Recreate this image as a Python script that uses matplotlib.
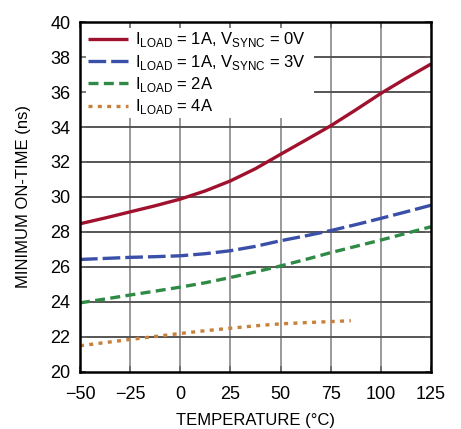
import numpy as np
import matplotlib.pyplot as plt
from matplotlib import font_manager
from matplotlib.patches import Rectangle

names = {f.name for f in font_manager.fontManager.ttflist}
fam = 'Liberation Sans Narrow' if 'Liberation Sans Narrow' in names else 'Liberation Sans'
plt.rcParams['font.family'] = [fam, 'DejaVu Sans']
plt.rcParams['mathtext.fontset'] = 'custom'
plt.rcParams['mathtext.rm'] = fam

# readings, every 12.5 degC
temp = [-50, -37.5, -25, -12.5, 0, 12.5, 25, 37.5, 50, 62.5, 75, 87.5, 100, 112.5, 125]
ton_1a_0v = [28.47, 28.8, 29.15, 29.5, 29.88, 30.35, 30.92, 31.62, 32.44, 33.25, 34.07,
             34.98, 35.92, 36.78, 37.6]
ton_1a_3v = [26.43, 26.49, 26.55, 26.59, 26.64, 26.76, 26.93, 27.18, 27.5, 27.78, 28.08,
             28.42, 28.78, 29.15, 29.53]
ton_2a = [23.95, 24.17, 24.4, 24.62, 24.85, 25.1, 25.4, 25.72, 26.06, 26.43, 26.82,
          27.18, 27.54, 27.92, 28.3]
temp_4a = [-50, -37.5, -25, -12.5, 0, 12.5, 25, 37.5, 50, 62.5, 75, 85]
ton_4a = [21.5, 21.68, 21.86, 22.03, 22.2, 22.36, 22.5, 22.64, 22.75, 22.82, 22.88, 22.93]

fig = plt.figure(figsize=(4.61, 4.29), dpi=100)
ax = fig.add_axes([0.1735, 0.1329, 0.7615, 0.8158])

ax.plot(temp, ton_1a_0v, color='#a0112e', lw=2.4, solid_capstyle='butt',
        label=r'I$_{\mathregular{LOAD}}$ = 1A, V$_{\mathregular{SYNC}}$ = 0V')
ax.plot(temp, ton_1a_3v, color='#3a4fa8', lw=2.4, dashes=(5.3, 1.5),
        label=r'I$_{\mathregular{LOAD}}$ = 1A, V$_{\mathregular{SYNC}}$ = 3V')
ax.plot(temp, ton_2a, color='#2f8a45', lw=2.4, dashes=(3.0, 1.6),
        label=r'I$_{\mathregular{LOAD}}$ = 2A')
ax.plot(temp_4a, ton_4a, color='#c8803a', lw=2.4, dashes=(1.2, 1.6),
        label=r'I$_{\mathregular{LOAD}}$ = 4A')

ax.set_xlim(-50, 125)
ax.set_ylim(20, 40)
ax.set_xticks(range(-50, 126, 25))
ax.set_yticks(range(20, 41, 2))
ax.set_xticklabels(['\u221250', '\u221225', '0', '25', '50', '75', '100', '125'])
for g in range(-25, 125, 25):
    ax.axvline(g, color='#9a9a9a', lw=1.4, zorder=0)
for g in range(22, 40, 2):
    ax.axhline(g, color='#555555', lw=1.4, zorder=0)
# white area behind legend (grid hidden there, ticks stay)
ax.add_patch(Rectangle((0, 0.726), 0.668, 0.274, transform=ax.transAxes,
                       facecolor='white', edgecolor='none', zorder=1))
ax.tick_params(direction='in', length=4, width=1.2, color='#666666',
               labelsize=13, top=True, right=True)
ax.tick_params(axis='x', pad=10)
ax.tick_params(axis='y', pad=7)
for s in ax.spines.values():
    s.set_linewidth(1.8)

ax.set_xlabel('TEMPERATURE (\u00b0C)', fontsize=12, labelpad=7)
ax.set_ylabel('MINIMUM ON-TIME (ns)', fontsize=12, labelpad=14)

leg = ax.legend(loc='upper left', fontsize=12, frameon=False, handlelength=2.4,
                labelspacing=0.2, borderaxespad=0.2, borderpad=0.3,
                handletextpad=0.4)
leg.set_zorder(5)

fig.savefig('out.png', dpi=100)
